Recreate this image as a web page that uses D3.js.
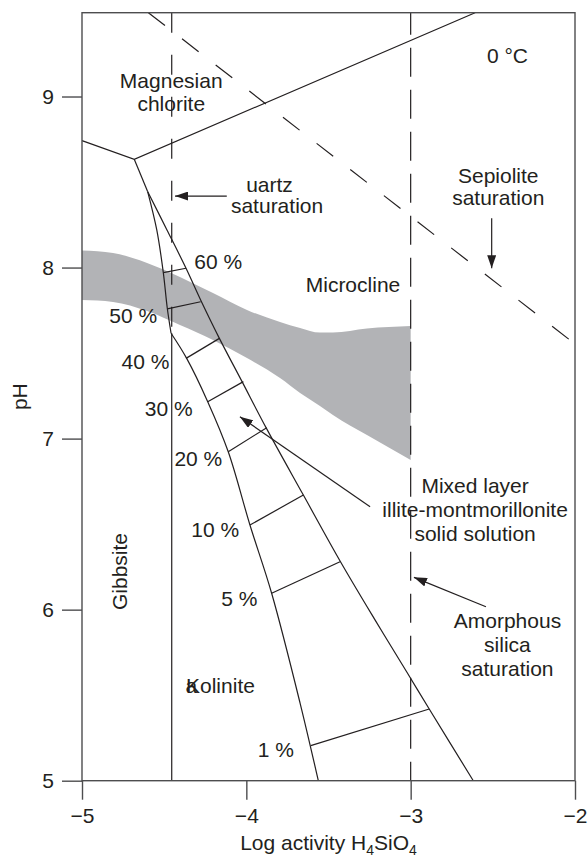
<!DOCTYPE html>
<html>
<head>
<meta charset="utf-8">
<script src="https://cdn.jsdelivr.net/npm/d3@7"></script>
<style>
  html, body { margin: 0; padding: 0; background: #fff; }
  svg { display: block; }
  text { font-family: "Liberation Sans", Arial, Helvetica, sans-serif; fill: #231f20; }
</style>
</head>
<body>
<svg id="chart" width="588" height="857"></svg>
<script>
// ---------------- data ----------------
const xTicks = [-5, -4, -3, -2];
const yTicks = [5, 6, 7, 8, 9];
const xDomain = [-5, -2];
const yDomain = [5, 9.49];

// phase boundaries [log aH4SiO4, pH]
const chloriteBoundary = [[-5.0, 8.742], [-4.682, 8.633], [-2.608, 9.49]];
const chloriteStem = [[-4.682, 8.633], [-4.600, 8.443]];
const leftBoundaryUpper = [[-4.600, 8.443], [-4.545, 8.220], [-4.505, 7.969], [-4.481, 7.762], [-4.458, 7.616]];
const leftBoundaryLower = [[-4.458, 7.616], [-4.363, 7.469], [-4.235, 7.216], [-4.110, 6.923],
                           [-3.978, 6.495], [-3.846, 6.096], [-3.673, 5.454], [-3.562, 5.000]];
const rightBoundary = [[-4.600, 8.443], [-4.483, 8.220], [-4.367, 7.996], [-4.273, 7.800], [-4.164, 7.586],
                       [-4.026, 7.333], [-3.880, 7.064], [-3.653, 6.670], [-3.427, 6.280], [-3.217, 5.940],
                       [-3.019, 5.628], [-2.887, 5.419], [-2.619, 5.000]];
const gibbsiteKaolinite = [[-4.454, 7.616], [-4.454, 5.0]];

// saturation lines (dashed)
const quartzSat = [[-4.454, 9.49], [-4.454, 7.62]];
const amorphousSat = [[-3.0, 9.49], [-3.0, 5.0]];
const sepioliteSat = [[-4.596, 9.49], [-2.0, 7.553]];

// mixed layer tie lines and their % labels
const tieLabels = ["60 %", "50 %", "40 %", "30 %", "20 %", "10 %", "5 %", "1 %"];
const tieLines = [
  [[-4.505, 7.970], [-4.367, 7.996]],
  [[-4.481, 7.758], [-4.278, 7.800]],
  [[-4.367, 7.469], [-4.164, 7.586]],
  [[-4.235, 7.216], [-4.018, 7.333]],
  [[-4.110, 6.923], [-3.876, 7.064]],
  [[-3.978, 6.495], [-3.653, 6.670]],
  [[-3.846, 6.096], [-3.430, 6.280]],
  [[-3.608, 5.205], [-2.887, 5.419]]
];
const tieLabelPos = [[-4.171, 7.990], [-4.688, 7.678], [-4.614, 7.404], [-4.472, 7.132],
                     [-4.292, 6.840], [-4.189, 6.426], [-4.042, 6.021], [-3.821, 5.140]];

// shaded band (natural waters)
const bandX      = [-5.000, -4.811, -4.604, -4.404, -4.203, -3.996, -3.795, -3.673, -3.552, -3.473, -3.266, -3.000];
const bandTop    = [ 8.100,  8.085,  8.027,  7.945,  7.851,  7.752,  7.682,  7.647,  7.620,  7.620,  7.644,  7.658];
const bandBottom = [ 7.810,  7.799,  7.746,  7.664,  7.577,  7.471,  7.354,  7.267,  7.191,  7.138,  7.021,  6.875];

// arrows [from, to]
const arrows = [
  [[-4.119, 8.418], [-4.434, 8.418]],   // quartz
  [[-2.507, 8.288], [-2.507, 7.996]],   // sepiolite
  [[-3.247, 6.602], [-4.039, 7.128]],   // mixed layer
  [[-2.542, 6.017], [-2.980, 6.189]]    // amorphous silica
];

// field labels: [text lines, x, y of first baseline]
const fieldLabels = [
  {lines: ["Magnesian", "chlorite"], x: -4.457, y: 9.050, dy: 23.5},
  {lines: ["uartz"], x: -3.859, y: 8.443, dy: 0},
  {lines: ["saturation"], x: -3.813, y: 8.317, dy: 0},
  {lines: ["0 °C"], x: -2.411, y: 9.194, dy: 0},
  {lines: ["Sepiolite", "saturation"], x: -2.467, y: 8.496, dy: 22.5},
  {lines: ["Microcline"], x: -3.351, y: 7.859, dy: 0},
  {lines: ["Mixed layer", "illite-montmorillonite", "solid solution"], x: -2.608, y: 6.680, dy: 24},
  {lines: ["Amorphous", "silica", "saturation"], x: -2.411, y: 5.891, dy: 24}
];

// ---------------- chart ----------------
const svg = d3.select("#chart");
const margin = {left: 82, top: 12.7, right: 13, bottom: 76.3};
const W = 588 - margin.left - margin.right;
const H = 857 - margin.top - margin.bottom;
const fs = 21;

const x = d3.scaleLinear().domain(xDomain).range([0, W]);
const y = d3.scaleLinear().domain(yDomain).range([H, 0]);

const g = svg.append("g").attr("transform", `translate(${margin.left},${margin.top})`);

const line = d3.line().x(d => x(d[0])).y(d => y(d[1]));
const smooth = d3.line().x(d => x(d[0])).y(d => y(d[1])).curve(d3.curveCatmullRom.alpha(0.5));

// band
const band = d3.area()
  .x(d => x(d[0])).y0(d => y(d[2])).y1(d => y(d[1]))
  .curve(d3.curveMonotoneX);
g.append("path")
  .datum(bandX.map((v, i) => [v, bandTop[i], bandBottom[i]]))
  .attr("d", band)
  .attr("fill", "#b2b3b6");

// dashed saturation lines
g.append("path").datum(quartzSat).attr("d", line)
  .attr("fill", "none").attr("stroke", "#231f20").attr("stroke-width", 1.2)
  .attr("stroke-dasharray", "20,22");
g.append("path").datum(amorphousSat).attr("d", line)
  .attr("fill", "none").attr("stroke", "#231f20").attr("stroke-width", 1.2)
  .attr("stroke-dasharray", "29,13").attr("stroke-dashoffset", 7);
g.append("path").datum(sepioliteSat).attr("d", line)
  .attr("fill", "none").attr("stroke", "#231f20").attr("stroke-width", 1.2)
  .attr("stroke-dasharray", "21,21.6");

// solid boundaries
const solid = (data, gen) => g.append("path").datum(data).attr("d", gen)
  .attr("fill", "none").attr("stroke", "#231f20").attr("stroke-width", 1.2);
solid(chloriteBoundary, line);
solid(chloriteStem, line);
solid(leftBoundaryUpper, smooth);
solid(leftBoundaryLower, smooth);
solid(rightBoundary, smooth);
solid(gibbsiteKaolinite, line);
tieLines.forEach(t => solid(t, line));

// tie labels
g.selectAll("text.tie").data(tieLabels).join("text")
  .attr("class", "tie")
  .attr("x", (d, i) => x(tieLabelPos[i][0]))
  .attr("y", (d, i) => y(tieLabelPos[i][1]))
  .attr("text-anchor", "middle")
  .attr("font-size", fs)
  .text(d => d);

// arrows
svg.append("defs").append("marker")
  .attr("id", "head").attr("markerUnits", "userSpaceOnUse")
  .attr("markerWidth", 14).attr("markerHeight", 9)
  .attr("refX", 13).attr("refY", 4.5).attr("orient", "auto")
  .append("path").attr("d", "M0,0 L13,4.5 L0,9 Z").attr("fill", "#231f20");
arrows.forEach(a => {
  g.append("path").datum(a).attr("d", line)
    .attr("fill", "none").attr("stroke", "#231f20").attr("stroke-width", 1.2)
    .attr("marker-end", "url(#head)");
});

// field labels
fieldLabels.forEach(f => {
  const t = g.append("text")
    .attr("text-anchor", "middle").attr("font-size", fs)
    .attr("x", x(f.x)).attr("y", y(f.y));
  f.lines.forEach((l, i) => {
    t.append("tspan").attr("x", x(f.x)).attr("dy", i === 0 ? 0 : f.dy).text(l);
  });
});

// Gibbsite (rotated)
g.append("text")
  .attr("transform", `translate(${x(-4.728)},${y(5.998)}) rotate(-90)`)
  .attr("font-size", fs).text("Gibbsite");

// Kaolinite with overprinted "a"
g.append("text").attr("x", x(-4.367)).attr("y", y(5.514)).attr("font-size", fs).text("Kolinite");
g.append("text").attr("x", x(-4.370)).attr("y", y(5.514)).attr("font-size", fs).text("a");

// frame
g.append("rect").attr("x", 0).attr("y", 0).attr("width", W).attr("height", H)
  .attr("fill", "none").attr("stroke", "#4d4d4f").attr("stroke-width", 1.4);

// axes
const xAxis = g.append("g").attr("transform", `translate(0,${H})`)
  .call(d3.axisBottom(x).tickValues(xTicks).tickSize(19).tickPadding(8.4)
    .tickFormat(d => d3.format("d")(d)));
const yAxis = g.append("g")
  .call(d3.axisLeft(y).tickValues(yTicks).tickSize(20).tickPadding(8)
    .tickFormat(d3.format("d")));
[xAxis, yAxis].forEach(a => {
  a.select(".domain").remove();
  a.selectAll(".tick line").attr("stroke", "#4d4d4f").attr("stroke-width", 1.4);
  a.selectAll(".tick text").attr("font-size", fs).attr("fill", "#231f20")
    .attr("font-family", "\"Liberation Sans\", Arial, sans-serif");
});

// axis titles
const xt = svg.append("text")
  .attr("x", margin.left + W / 2).attr("y", 850)
  .attr("text-anchor", "middle").attr("font-size", fs);
xt.append("tspan").text("Log activity H");
xt.append("tspan").attr("font-size", 14).attr("dy", 5).text("4");
xt.append("tspan").attr("dy", -5).text("SiO");
xt.append("tspan").attr("font-size", 14).attr("dy", 5).text("4");

svg.append("text")
  .attr("transform", `translate(26.5,${margin.top + H / 2}) rotate(-90)`)
  .attr("text-anchor", "middle").attr("font-size", fs).text("pH");
</script>
</body>
</html>
